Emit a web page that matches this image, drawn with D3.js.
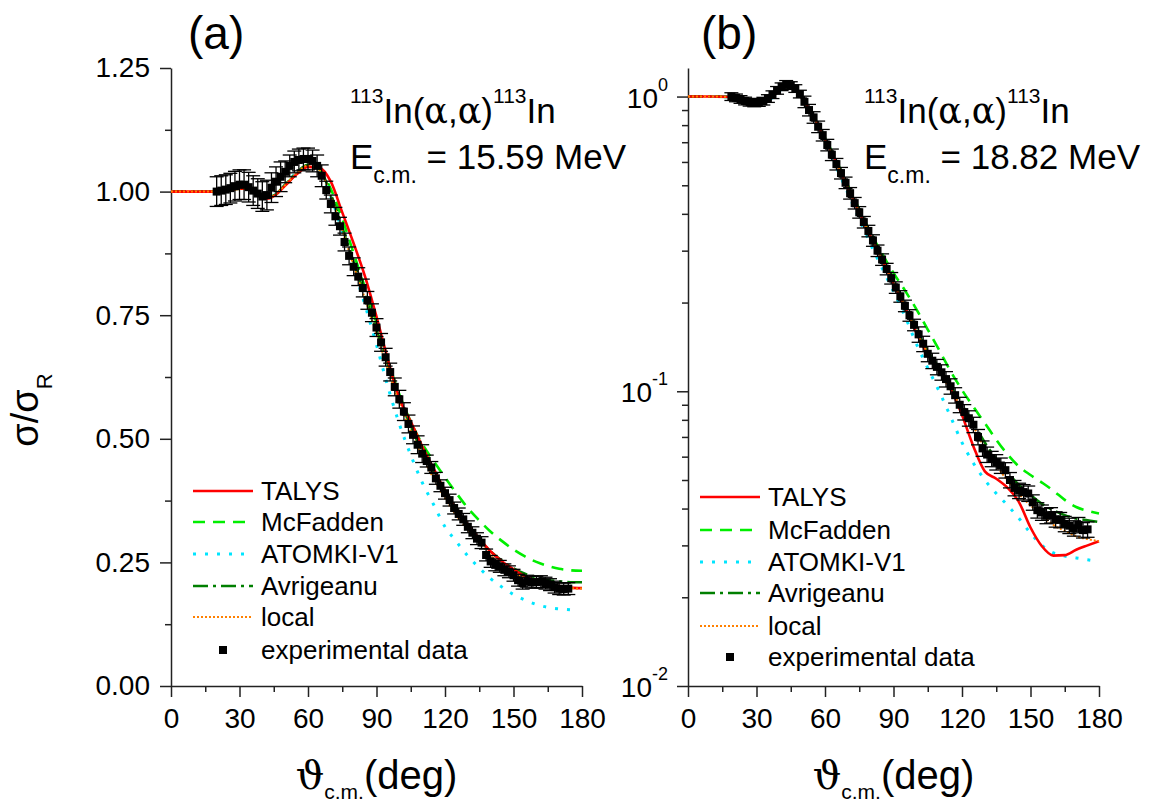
<!DOCTYPE html>
<html><head><meta charset="utf-8">
<script src="https://cdn.jsdelivr.net/npm/d3@7"></script>
<style>
body{margin:0;background:#fff;}
svg{display:block;font-family:"Liberation Sans",Arial,sans-serif;}
</style></head><body>
<svg id="c" width="1158" height="806"></svg>
<script>
// ---------- tick data ----------
const xTicks = [0, 30, 60, 90, 120, 150, 180];
const xMinor = [15, 45, 75, 105, 135, 165];
const yTicksA = [0, 0.25, 0.5, 0.75, 1.0, 1.25];
const yTickLabelsA = ["0.00", "0.25", "0.50", "0.75", "1.00", "1.25"];
const yMinorA = [0.125, 0.375, 0.625, 0.875, 1.125];
const yTicksB = [0.01, 0.1, 1];
const yTickExpB = ["-2", "-1", "0"];
const yMinorB = [0.02,0.03,0.04,0.05,0.06,0.07,0.08,0.09,0.2,0.3,0.4,0.5,0.6,0.7,0.8,0.9];
const seriesNames = ["TALYS", "McFadden", "ATOMKI-V1", "Avrigeanu", "local", "experimental data"];

// ---------- panel (a): 15.59 MeV, linear ----------
const gridA = [0,10,20,25,30,34,38,42,46,50,55,60,65,70,75,80,85,90,95,100,105,110,115,120,125,130,135,140,145,150,155,160,165,170,175,180];
const talysA = [1.000,1.000,1.000,1.002,1.006, 1.006,0.996,0.986,0.994,1.012, 1.035,1.050,1.048,1.020,0.958, 0.895,0.828,0.747,0.660,0.582, 0.535,0.485,0.440,0.395,0.357, 0.327,0.298,0.272,0.252,0.236, 0.222,0.212,0.206,0.202,0.199, 0.198];
const mcfaddenA = [1.000,1.000,1.000,1.002,1.006, 1.006,0.997,0.988,0.995,1.013, 1.036,1.052,1.045,1.005,0.945, 0.875,0.805,0.735,0.658,0.590, 0.535,0.490,0.455,0.422,0.390, 0.360,0.335,0.312,0.293,0.276, 0.262,0.251,0.243,0.237,0.234, 0.233];
const atomkiA = [1.000,1.000,1.000,1.002,1.007, 1.007,0.997,0.987,0.995,1.014, 1.038,1.052,1.040,0.990,0.920, 0.845,0.770,0.690,0.605,0.530, 0.467,0.412,0.367,0.322,0.292, 0.263,0.239,0.217,0.200,0.185, 0.174,0.165,0.159,0.156,0.154, null];
const avrigeanuA = [1.000,1.000,1.000,1.002,1.007, 1.007,0.997,0.987,0.995,1.014, 1.038,1.054,1.045,0.995,0.928, 0.857,0.790,0.720,0.650,0.582, 0.525,0.475,0.430,0.392,0.356, 0.324,0.297,0.272,0.253,0.238, 0.227,0.219,0.214,0.212,0.210, 0.210];
const localA = [1.000,1.000,1.000,1.002,1.006, 1.006,0.997,0.987,0.995,1.013, 1.037,1.053,1.044,0.990,0.922, 0.850,0.783,0.713,0.640,0.572, 0.515,0.465,0.420,0.380,0.345, 0.316,0.290,0.264,0.244,0.229, 0.218,0.210,0.204,0.200,0.198, 0.197];
const thetaA = [20,22,24,26,28,30,32,34,36,38,40,42,44,46,48,50,52,54,56,58,60,62,64,66,68,70,72,74,76,78,80,82,84,86,88,90,92,94,96,98,100,102,104,106,108,110,112,114,116,118,120,122,124,126,128,130,132,134,136,138,140,142,144,146,148,150,152,154,156,158,160,162,164,166,168,170,172,174];
const expA = [1.000,1.002,1.004,1.007,1.011, 1.014,1.014,1.009,1.002,0.996, 0.990,0.993,1.008,1.020,1.030, 1.040,1.052,1.060,1.064,1.066, 1.066,1.062,1.052,1.032,1.003, 0.975,0.950,0.930,0.898,0.870, 0.848,0.828,0.805,0.780,0.755, 0.725,0.695,0.665,0.635,0.605, 0.580,0.555,0.530,0.508,0.488, 0.470,0.455,0.442,0.420,0.405, 0.390,0.376,0.360,0.348,0.337, 0.322,0.310,0.298,0.290,0.265, 0.252,0.245,0.242,0.235,0.231, 0.224,0.214,0.208,0.212,0.210, 0.210,0.211,0.208,0.205,0.200, 0.197,0.196,0.197];
const errA = [0.030,0.030,0.030,0.030,0.030, 0.030,0.030,0.030,0.030,0.030, 0.030,0.030,0.030,0.030,0.030, 0.022,0.022,0.022,0.022,0.022, 0.022,0.022,0.022,0.022,0.018, 0.018,0.018,0.018,0.018,0.018, 0.018,0.018,0.018,0.018,0.018, 0.018,0.018,0.018,0.018,0.018, 0.018,0.018,0.018,0.018,0.018, 0.018,0.012,0.012,0.012,0.012, 0.012,0.012,0.012,0.012,0.012, 0.012,0.012,0.012,0.012,0.012, 0.012,0.012,0.012,0.012,0.012, 0.012,0.012,0.012,0.012,0.012, 0.012,0.012,0.012,0.012,0.012, 0.012,0.012,0.012];

// ---------- panel (b): 18.82 MeV, log ----------
const gridB = [0,10,20,25,30,35,40,43,46,50,55,60,65,70,75,80,85,90,95,100,105,110,115,120,125,130,135,140,145,150,155,160,165,170,175,180];
const talysB = [1.000,1.000,0.997,0.980,0.962, 0.975,1.050,1.090,1.075,0.985, 0.855,0.715,0.595,0.490,0.405, 0.335,0.280,0.232,0.193,0.158, 0.133,0.117,0.102,0.083,0.065, 0.0535,0.0505,0.047,0.042,0.0345, 0.0298,0.0277,0.0278,0.029,0.030, 0.031];
const mcfaddenB = [1.000,1.000,0.997,0.980,0.962, 0.975,1.050,1.090,1.075,0.990, 0.860,0.725,0.605,0.500,0.415, 0.345,0.293,0.252,0.220,0.190, 0.162,0.138,0.117,0.101,0.0885, 0.078,0.0685,0.061,0.0555,0.052, 0.049,0.046,0.0428,0.0405,0.0393, 0.0385];
const atomkiB = [1.000,1.000,0.997,0.978,0.958, 0.970,1.045,1.085,1.070,0.980, 0.840,0.700,0.575,0.470,0.385, 0.315,0.262,0.218,0.180,0.145, 0.120,0.100,0.082,0.067,0.057, 0.050,0.045,0.041,0.037,0.033, 0.030,0.0283,0.0276,0.0272,0.0268, 0.0265];
const avrigeanuB = [1.000,1.000,0.997,0.980,0.960, 0.975,1.050,1.092,1.075,0.985, 0.855,0.720,0.598,0.495,0.408, 0.338,0.283,0.237,0.197,0.162, 0.137,0.120,0.104,0.090,0.078, 0.067,0.059,0.053,0.048,0.0445, 0.0415,0.0395,0.038,0.037,0.0365, 0.036];
const localB = [1.000,1.000,0.997,0.980,0.960, 0.975,1.050,1.092,1.075,0.985, 0.855,0.718,0.596,0.493,0.406, 0.336,0.281,0.235,0.195,0.160, 0.135,0.117,0.101,0.088,0.076, 0.064,0.056,0.0497,0.0448,0.041, 0.038,0.0352,0.0336,0.0322,0.0315, 0.031];
const thetaB = [19,21,23,25,27,29,31,33,35,37,39,41,43,45,47,49,51,53,55,57,59,61,63,65,67,69,71,73,75,77,79,81,83,85,87,89,91,93,95,97,99,101,103,105,107,109,111,113,115,117,119,121,123,125,127,129,131,133,135,137,139,141,143,145,147,149,151,153,155,157,159,161,163,165,167,169,171,173,175];
const expB = [1.000,0.990,0.978,0.966,0.957, 0.952,0.955,0.965,0.985,1.015, 1.050,1.080,1.100,1.090,1.065, 1.020,0.960,0.900,0.850,0.790, 0.740,0.685,0.635,0.590,0.550, 0.510,0.470,0.435,0.405,0.375, 0.350,0.325,0.300,0.280,0.260, 0.242,0.225,0.210,0.195,0.181, 0.168,0.156,0.145,0.134,0.127, 0.121,0.116,0.110,0.104,0.097, 0.090,0.085,0.081,0.077,0.070, 0.064,0.061,0.059,0.0575,0.056, 0.054,0.050,0.047,0.046,0.0455, 0.045,0.042,0.0395,0.0388,0.0378, 0.038,0.0368,0.0366,0.0355,0.035, 0.0343,0.0352,0.0338,0.034];
const errB = [0.03,0.03,0.03,0.03,0.03, 0.03,0.03,0.03,0.03,0.03, 0.03,0.03,0.03,0.03,0.03, 0.03,0.045,0.045,0.045,0.045, 0.045,0.045,0.045,0.045,0.045, 0.045,0.045,0.045,0.045,0.045, 0.045,0.045,0.045,0.045,0.045, 0.045,0.045,0.045,0.045,0.045, 0.045,0.06,0.06,0.06,0.06, 0.06,0.06,0.06,0.06,0.06, 0.06,0.06,0.06,0.06,0.06, 0.06,0.06,0.06,0.06,0.06, 0.06,0.06,0.06,0.06,0.06, 0.06,0.06,0.06,0.06,0.06, 0.06,0.06,0.06,0.06,0.06, 0.06,0.06,0.06,0.06];

// ---------- styles ----------
const styles = [
  {color:"#ff0000", dash:null, w:2.6},
  {color:"#00ee00", dash:"12,8", w:2.6},
  {color:"#00e5ff", dash:"3,9", w:3},
  {color:"#007f00", dash:"15,5,3,5", w:2.6},
  {color:"#ff8000", dash:"2,2", w:2}
];
const drawOrder = [1, 2, 3, 0, 4];
const FONT = "'Liberation Sans', Arial, sans-serif";
const SERIF = "'DejaVu Serif', 'Liberation Serif', serif";

const svg = d3.select("#c");

function styleAxis(g){
  g.select(".domain").attr("stroke","#222").attr("stroke-width",1.5);
  g.selectAll(".tick line").attr("stroke","#222").attr("stroke-width",1.5);
  g.selectAll(".tick text").attr("font-size",28).attr("fill","#000").attr("font-family",FONT);
}

function panel(cfg){
  const x = d3.scaleLinear().domain([0,180]).range([cfg.x0, cfg.x0+411]);
  const y = cfg.log ? d3.scaleLog().domain([0.01,1.25]).range([686,68])
                    : d3.scaleLinear().domain([0,1.25]).range([686,68]);
  const g = svg.append("g");

  // x axis
  g.append("g").attr("transform","translate(0,686)")
    .call(d3.axisBottom(x).tickValues(xTicks).tickSize(11).tickSizeOuter(0).tickPadding(11).tickFormat(d=>d))
    .call(styleAxis);
  g.append("g").attr("transform","translate(0,686)")
    .call(d3.axisBottom(x).tickValues(xMinor).tickSize(6).tickSizeOuter(0).tickFormat(""))
    .call(styleAxis).call(a=>a.select(".domain").remove());

  // y axis
  const ya = g.append("g").attr("transform",`translate(${cfg.x0},0)`);
  if(!cfg.log){
    ya.call(d3.axisLeft(y).tickValues(yTicksA).tickSize(11).tickSizeOuter(0).tickPadding(10)
      .tickFormat((d,i)=>yTickLabelsA[i])).call(styleAxis);
    g.append("g").attr("transform",`translate(${cfg.x0},0)`)
      .call(d3.axisLeft(y).tickValues(yMinorA).tickSize(6).tickSizeOuter(0).tickFormat(""))
      .call(styleAxis).call(a=>a.select(".domain").remove());
  } else {
    ya.call(d3.axisLeft(y).tickValues(yTicksB).tickSize(11).tickSizeOuter(0).tickFormat(""))
      .call(styleAxis);
    g.append("g").attr("transform",`translate(${cfg.x0},0)`)
      .call(d3.axisLeft(y).tickValues(yMinorB).tickSize(6).tickSizeOuter(0).tickFormat(""))
      .call(styleAxis).call(a=>a.select(".domain").remove());
    yTicksB.forEach((v,i)=>{
      const t = g.append("text").attr("x",cfg.x0-20).attr("y",y(v)+11)
        .attr("text-anchor","end").attr("font-size",28).attr("font-family",FONT);
      t.append("tspan").text("10");
      t.append("tspan").attr("font-size",18).attr("dy",-17).text(yTickExpB[i]);
    });
  }

  // model curves
  const line = d3.line().defined(d=>d[1]!=null).curve(d3.curveMonotoneX)
    .x(d=>x(d[0])).y(d=>y(d[1]));
  drawOrder.forEach(k=>{
    const s = styles[k];
    const pts = cfg.grid.map((t,i)=>[t, cfg.models[k][i]]);
    g.append("path").attr("d",line(pts)).attr("fill","none")
      .attr("stroke",s.color).attr("stroke-width",s.w)
      .attr("stroke-dasharray",s.dash);
  });

  // experimental data with error bars
  const eg = g.append("g").attr("stroke","#000").attr("stroke-width",1.3);
  cfg.theta.forEach((t,i)=>{
    const v = cfg.exp[i], e = cfg.err[i];
    const lo = cfg.log ? v*(1-e) : v-e, hi = cfg.log ? v*(1+e) : v+e;
    const px = x(t);
    eg.append("line").attr("x1",px).attr("x2",px).attr("y1",y(lo)).attr("y2",y(hi));
    eg.append("line").attr("x1",px-7).attr("x2",px+7).attr("y1",y(lo)).attr("y2",y(lo));
    eg.append("line").attr("x1",px-7).attr("x2",px+7).attr("y1",y(hi)).attr("y2",y(hi));
  });
  g.append("g").selectAll("rect").data(cfg.theta).join("rect")
    .attr("x",(t)=>x(t)-4).attr("y",(t,i)=>y(cfg.exp[i])-4)
    .attr("width",8).attr("height",8).attr("fill","#000");

  // panel label
  svg.append("text").attr("x",cfg.labelX).attr("y",49).attr("font-size",46)
    .attr("font-family",FONT).text(cfg.label);

  // reaction title
  const t1 = svg.append("text").attr("x",cfg.titleX).attr("y",123).attr("font-size",35).attr("font-family",FONT);
  t1.append("tspan").attr("font-size",21).attr("dy",-20).text("113");
  t1.append("tspan").attr("dy",20).text("In(");
  t1.append("tspan").attr("font-family",SERIF).text("α");
  t1.append("tspan").text(",");
  t1.append("tspan").attr("font-family",SERIF).text("α");
  t1.append("tspan").text(")");
  t1.append("tspan").attr("font-size",21).attr("dy",-20).text("113");
  t1.append("tspan").attr("dy",20).text("In");
  const t2 = svg.append("text").attr("x",cfg.titleX).attr("y",169).attr("font-size",35).attr("font-family",FONT);
  t2.append("tspan").text("E");
  t2.append("tspan").attr("font-size",23).attr("dy",14).text("c.m.");
  t2.append("tspan").attr("dy",-14).text(" = " + cfg.energy);

  // x axis title
  const xt = svg.append("text").attr("x",cfg.x0+205.5).attr("y",789).attr("text-anchor","middle")
    .attr("font-size",40).attr("font-family",FONT);
  xt.append("tspan").attr("font-family",SERIF).text("ϑ");
  xt.append("tspan").attr("font-size",21).attr("dy",10).text("c.m.");
  xt.append("tspan").attr("dy",-10).text("(deg)");

  // legend
  const L = cfg.legend;
  seriesNames.forEach((name,i)=>{
    const ry = L.y[i];
    if(i<5){
      const s = styles[i];
      svg.append("line").attr("x1",L.x1).attr("x2",L.x2).attr("y1",ry).attr("y2",ry)
        .attr("stroke",s.color).attr("stroke-width",s.w).attr("stroke-dasharray",s.dash);
    } else {
      svg.append("rect").attr("x",(L.x1+L.x2)/2-4).attr("y",ry-4).attr("width",8).attr("height",8).attr("fill","#000");
    }
    svg.append("text").attr("x",L.tx).attr("y",ry+9).attr("font-size",26)
      .attr("font-family",FONT).text(name);
  });
}

panel({x0:171, log:false, grid:gridA, models:[talysA,mcfaddenA,atomkiA,avrigeanuA,localA],
  theta:thetaA, exp:expA, err:errA, label:"(a)", labelX:188, titleX:350, energy:"15.59 MeV",
  legend:{x1:193, x2:253, tx:261, y:[491,522,554,586,617,650]}});
panel({x0:688, log:true, grid:gridB, models:[talysB,mcfaddenB,atomkiB,avrigeanuB,localB],
  theta:thetaB, exp:expB, err:errB, label:"(b)", labelX:701, titleX:864, energy:"18.82 MeV",
  legend:{x1:700, x2:760, tx:768, y:[497,530,562,593,626,657]}});

// y axis title
const yt = svg.append("text").attr("transform","translate(38,410) rotate(-90)")
  .attr("text-anchor","middle").attr("font-size",38).attr("font-family",FONT);
yt.append("tspan").text("σ/σ");
yt.append("tspan").attr("font-size",22).attr("dy",14).text("R");
</script>
</body></html>
